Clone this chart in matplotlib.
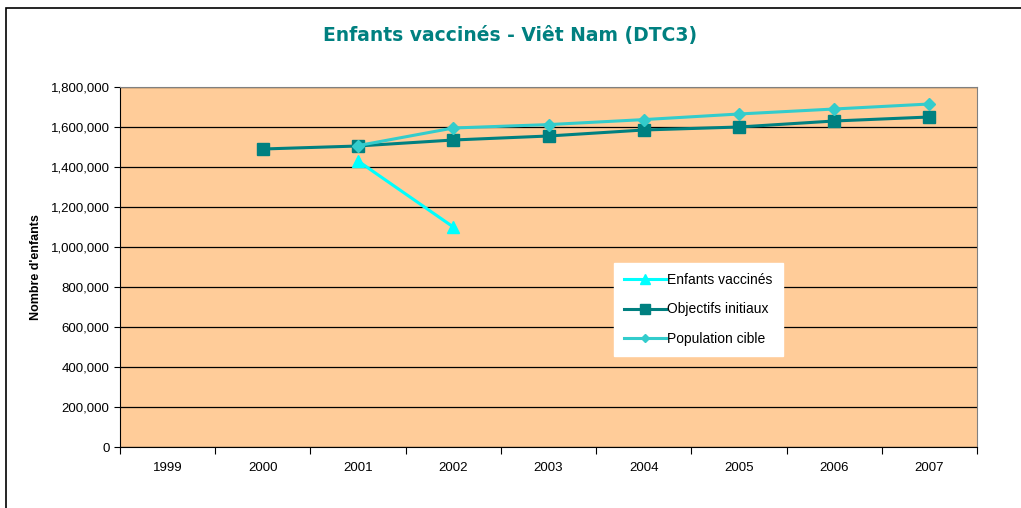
import numpy as np
from matplotlib import pyplot as plt
from matplotlib.patches import Rectangle

years = ["1999", "2000", "2001", "2002", "2003", "2004", "2005", "2006", "2007"]

# values per year, None where no point
enfants_vaccines = [None, None, 1430000, 1100000, None, None, None, None, None]
objectifs_initiaux = [None, 1490000, 1505000, 1535000, 1555000, 1585000, 1600000, 1630000, 1650000]
population_cible = [None, None, 1507000, 1595000, 1612000, 1637000, 1665000, 1690000, 1715000]

plt.rcParams['font.family'] = ['Liberation Sans', 'DejaVu Sans']

fig = plt.figure(figsize=(10.21, 5.08), dpi=100)
fig.patches.append(Rectangle((6/1021, -0.1), 1.2, 1.1 - 8/508, transform=fig.transFigure,
                             fill=False, edgecolor='black', linewidth=1.2))

ax = fig.add_axes([120/1021, 61/508, 857/1021, 360/508])
ax.set_facecolor('#FFCC99')

x = np.arange(len(years))

def to_arr(vals):
    return np.array([np.nan if v is None else v for v in vals], dtype=float)

ax.plot(x, to_arr(enfants_vaccines), color='#00FFFF', lw=2.2, marker='^', ms=9,
        label='Enfants vaccinés', zorder=5)
ax.plot(x, to_arr(population_cible), color='#33CCCC', lw=2.2, marker='D', ms=6,
        label='Population cible', zorder=4)
ax.plot(x, to_arr(objectifs_initiaux), color='#008080', lw=2.2, marker='s', ms=9,
        label='Objectifs initiaux', zorder=3)

ax.set_xlim(-0.5, len(years) - 0.5)
ax.set_ylim(0, 1800000)
ax.set_yticks(np.arange(0, 1800001, 200000))
ax.set_yticklabels([f"{v:,}" for v in range(0, 1800001, 200000)], fontsize=9.5)
ax.yaxis.grid(True, color='black', lw=0.9)
ax.set_axisbelow(True)

ax.set_xticks(np.arange(-0.5, len(years), 1.0))
ax.set_xticklabels([])
ax.set_xticks(x, minor=True)
ax.set_xticklabels(years, minor=True, fontsize=9.5)
ax.tick_params(axis='x', which='major', length=5, color='black')
ax.tick_params(axis='x', which='minor', length=0, pad=11)
ax.tick_params(axis='y', length=4, color='black')

for side in ['left', 'bottom']:
    ax.spines[side].set_color('black')
for side in ['top', 'right']:
    ax.spines[side].set_color('#808080')

ax.set_ylabel("Nombre d'enfants", fontsize=9, fontweight='bold', labelpad=6)
fig.text(0.5, 1 - 35/508, "Enfants vaccinés - Viêt Nam (DTC3)", ha='center', va='center',
         fontsize=13.5, fontweight='bold', color='#008080', family='DejaVu Sans')

handles, labels = ax.get_legend_handles_labels()
order = [0, 2, 1]
leg = ax.legend([handles[i] for i in order], [labels[i] for i in order],
                loc='upper left', bbox_to_anchor=(0.576, 0.512), fontsize=10,
                frameon=True, fancybox=False, edgecolor='white', facecolor='white',
                framealpha=1, labelspacing=1.1, handlelength=3.0, handletextpad=0.1,
                borderpad=0.75, borderaxespad=0, markerscale=0.75)

fig.savefig('out.png', dpi=100)
